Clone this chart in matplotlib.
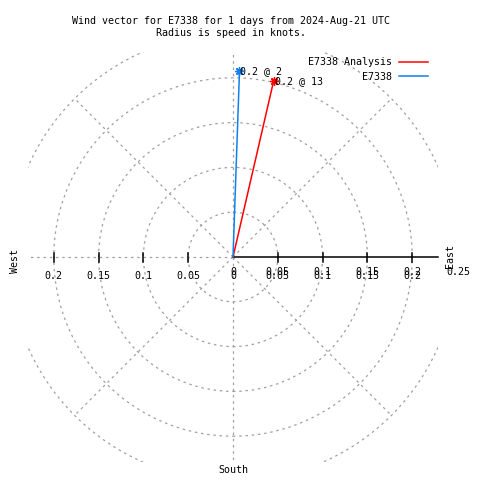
"""
Polar wind-vector plot (gnuplot style) redrawn with matplotlib.
"""
import numpy as np
import matplotlib
matplotlib.use("Agg")
import matplotlib.pyplot as plt
from matplotlib.patches import Circle
from matplotlib.lines import Line2D

plt.rcParams["font.family"] = ["DejaVu Sans Mono"]
FS = 7.2

# ─── data ────────────────────────────────────────────────────────────────────
series_names = ["E7338 Analysis", "E7338"]
series_colors = ["#ff0000", "#1080f0"]
directions_deg = [13, 2]          # clockwise from north
speeds_kt = [0.202, 0.2076]
point_labels = ["0.2 @ 13", "0.2 @ 2"]

ring_values = [0.05, 0.1, 0.15, 0.2, 0.25]
tick_values = [0.05, 0.1, 0.15, 0.2]
tick_labels = ["0.05", "0.1", "0.15", "0.2"]

title = "Wind vector for E7338 for 1 days from 2024-Aug-21 UTC\nRadius is speed in knots."

# ─── figure ──────────────────────────────────────────────────────────────────
W = H = 480
fig = plt.figure(figsize=(W / 100, H / 100), dpi=100)
cx, cy, half = 233, 257, 205           # pixel centre / half-size of plot box
ax = fig.add_axes([(cx - half) / W, (H - cy - half) / H, 2 * half / W, 2 * half / H])
lim = half / 896.0
ax.set_xlim(-lim, lim)
ax.set_ylim(-lim, lim)
ax.set_aspect("equal")
ax.axis("off")

grid_kw = dict(color="#a0a0a0", lw=0.9, ls=(0, (2, 3)))

# rings
for r in ring_values:
    ax.add_patch(Circle((0, 0), r, fill=False, **grid_kw))

# radial lines every 45 deg (east one replaced by solid axis)
for a in range(45, 360, 45):
    t = np.radians(a)
    ax.plot([0, 0.25 * np.cos(t)], [0, 0.25 * np.sin(t)], **grid_kw)

# solid east axis with ticks
ax.plot([0, lim], [0, 0], color="black", lw=1.1, clip_on=False)
tk = 4.5 / 896
for v in tick_values:
    ax.plot([v, v], [-tk, tk], color="black", lw=1.1, clip_on=False)
    ax.plot([-v, -v], [-tk, tk], color="black", lw=1.1, clip_on=False)

# tick labels (gnuplot draws the right-hand ones twice, slightly offset)
ly = -19 / 896
for v, s in zip(tick_values, tick_labels):
    ax.text(-v, ly, s, ha="center", va="center", fontsize=FS)
    ax.text(v, ly, s, ha="center", va="center", fontsize=FS)
    ax.text(v, ly + 4 / 896, s, ha="center", va="center", fontsize=FS)
ax.text(0, ly, "0", ha="center", va="center", fontsize=FS)
ax.text(0.5 / 896, ly + 4 / 896, "0", ha="center", va="center", fontsize=FS)
ax.text(225 / 896, -15 / 896, "0.25", ha="center", va="center", fontsize=FS, clip_on=False)

# wind vectors
for name, col, d, s, lab in zip(series_names, series_colors, directions_deg,
                                speeds_kt, point_labels):
    t = np.radians(d)
    x, y = s * np.sin(t), s * np.cos(t)
    ax.plot([0, x], [0, y], color=col, lw=1.1, clip_on=False)
    ax.plot([x], [y], color=col, marker=(8, 2, 0), ms=6, mew=1.0, clip_on=False)
    ax.text(x + 1 / 896, y, lab, ha="left", va="center", fontsize=FS)

# legend: text first, line after
handles = [Line2D([], [], color=c, lw=1.1) for c in series_colors]
ax.legend(handles, series_names, loc="upper right", markerfirst=False,
          frameon=False, fontsize=FS, handlelength=2.9, handletextpad=0.7,
          labelspacing=0.45, borderpad=0, borderaxespad=0,
          bbox_to_anchor=(428 / W, 1 - 57 / H), bbox_transform=fig.transFigure)

# compass labels and title
fig.text(15 / W, 1 - 261 / H, "West", rotation=90, ha="center", va="center", fontsize=FS)
fig.text(450 / W, 1 - 256 / H, "East", rotation=90, ha="center", va="center", fontsize=FS)
fig.text(233 / W, 1 - 470 / H, "South", ha="center", va="center", fontsize=FS)
fig.text(231 / W, 1 - 27 / H, title, ha="center", va="center", fontsize=FS,
         linespacing=1.35)

fig.savefig("out.png", dpi=100, facecolor="white")
